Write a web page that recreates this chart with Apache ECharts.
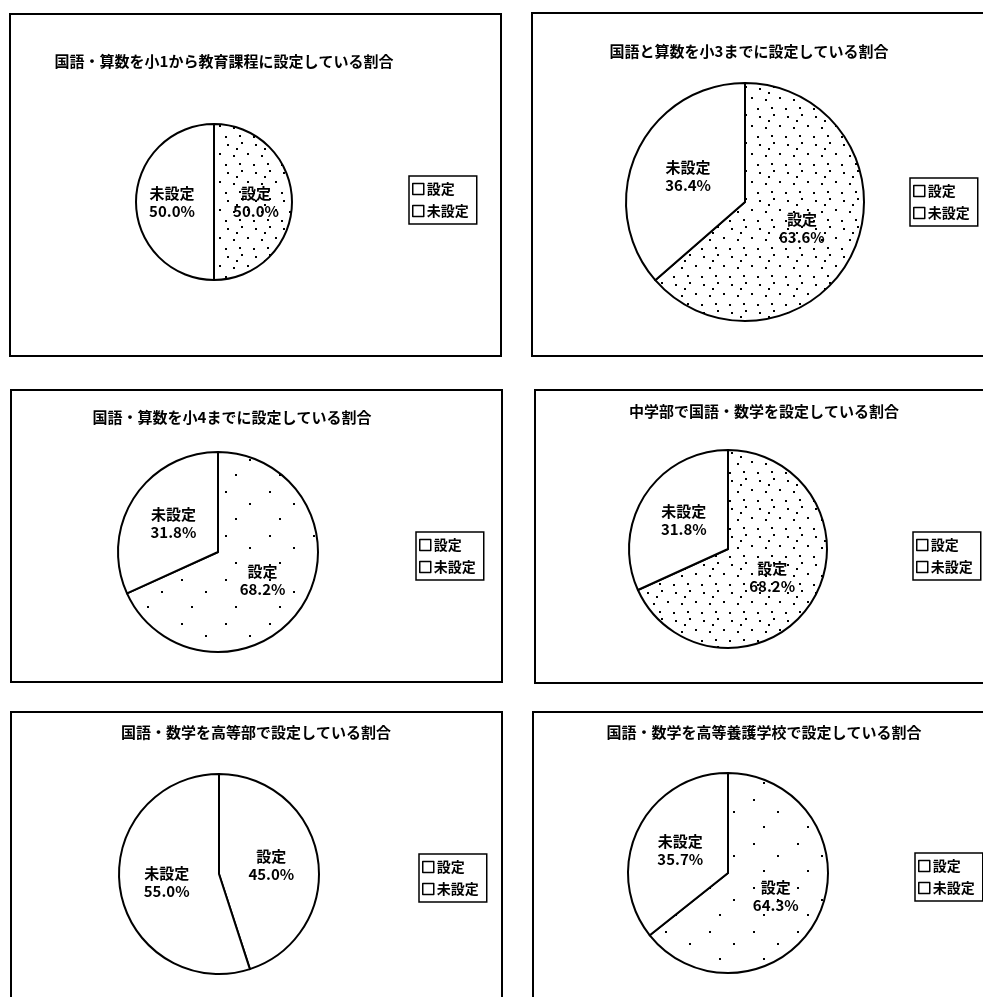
<!DOCTYPE html>
<html>
<head>
<meta charset="utf-8">
<script src="https://cdn.jsdelivr.net/npm/echarts@6/dist/echarts.min.js"></script>
<style>
  html, body { margin: 0; padding: 0; background: #fff; }
  #chart { width: 983px; height: 997px; }
</style>
</head>
<body>
<div id="chart"></div>
<script>
// 各グラフのタイトル
const titles = [
  '国語・算数を小1から教育課程に設定している割合',
  '国語と算数を小3までに設定している割合',
  '国語・算数を小4までに設定している割合',
  '中学部で国語・数学を設定している割合',
  '国語・数学を高等部で設定している割合',
  '国語・数学を高等養護学校で設定している割合'
];
const categories = ['設定', '未設定'];
// 設定 / 未設定 の割合 (%)
const setValues = [50.0, 63.6, 68.2, 68.2, 45.0, 64.3];
const unsetValues = [50.0, 36.4, 31.8, 31.8, 55.0, 35.7];

// 配置
const panels = [
  { box: [10, 14, 491, 342], center: [214, 202], r: 78, title: [224, 54], legend: [409, 176], dots: 'dense' },
  { box: [532, 13, 470, 343], center: [745, 202], r: 119, title: [749, 44], legend: [910, 178], dots: 'dense' },
  { box: [11, 390, 491, 292], center: [218, 552], r: 100, title: [232, 410], legend: [416, 532], dots: 'sparse' },
  { box: [535, 390, 470, 293], center: [728, 549], r: 99, title: [764, 404], legend: [913, 532], dots: 'dense' },
  { box: [11, 712, 491, 300], center: [219, 874], r: 100, title: [256, 725], legend: [419, 854], dots: 'none' },
  { box: [533, 712, 470, 300], center: [728, 873], r: 100, title: [764, 725], legend: [915, 853], dots: 'sparse' }
];

const FONT = '"Noto Sans CJK JP", "Noto Sans", sans-serif';

// 点描パターン
const makePattern = (kind) => {
  const size = kind === 'dense' ? 28 : 44;
  const c = document.createElement('canvas');
  c.width = size;
  c.height = size;
  const ctx = c.getContext('2d');
  ctx.fillStyle = '#fff';
  ctx.fillRect(0, 0, size, size);
  if (kind === 'none') return c;
  ctx.fillStyle = '#000';
  const pts = kind === 'dense'
    ? [[3, 4], [17, 2], [23, 13], [9, 15], [15, 23], [1, 24], [12, 8]]
    : [[5, 7], [29, 19], [15, 34]];
  pts.forEach(p => ctx.fillRect(p[0], p[1], 2, 2));
  return c;
};

const chart = echarts.init(document.getElementById('chart'));

const option = {
  backgroundColor: '#fff',
  animation: false,
  title: panels.map((p, i) => ({
    text: titles[i],
    left: p.title[0],
    top: p.title[1],
    textAlign: 'center',
    padding: 0,
    textStyle: { fontFamily: FONT, fontSize: 15, fontWeight: 'bold', color: '#000' }
  })),
  legend: panels.map(p => ({
    orient: 'vertical',
    left: p.legend[0],
    top: p.legend[1],
    borderColor: '#000',
    borderWidth: 1.5,
    padding: [6, 8, 6, 3],
    itemGap: 8,
    itemWidth: 11,
    itemHeight: 11,
    textStyle: { fontFamily: FONT, fontSize: 14, fontWeight: 'bold', color: '#000', padding: [0, 0, 0, -2] },
    data: categories.map(name => ({
      name,
      icon: 'rect',
      itemStyle: { color: '#fff', borderColor: '#000', borderWidth: 1.5 }
    }))
  })),
  graphic: panels.map(p => ({
    type: 'rect',
    shape: { x: p.box[0], y: p.box[1], width: p.box[2], height: p.box[3] },
    style: { fill: 'none', stroke: '#000', lineWidth: 2 },
    z: -1
  })),
  series: panels.map((p, i) => ({
    type: 'pie',
    center: p.center,
    radius: p.r,
    startAngle: 90,
    clockwise: true,
    avoidLabelOverlap: false,
    itemStyle: { borderColor: '#000', borderWidth: 2 },
    emphasis: { disabled: true },
    label: {
      show: true,
      position: 'inside',
      color: '#000',
      fontFamily: FONT,
      fontSize: 15,
      fontWeight: 'bold',
      lineHeight: 18,
      formatter: d => d.name + '\n' + d.value.toFixed(1) + '%'
    },
    labelLine: { show: false },
    data: [
      { name: categories[0], value: setValues[i], itemStyle: { color: { image: makePattern(p.dots), repeat: 'repeat' } } },
      { name: categories[1], value: unsetValues[i], itemStyle: { color: '#fff' } }
    ]
  }))
};

chart.setOption(option);
</script>
</body>
</html>
